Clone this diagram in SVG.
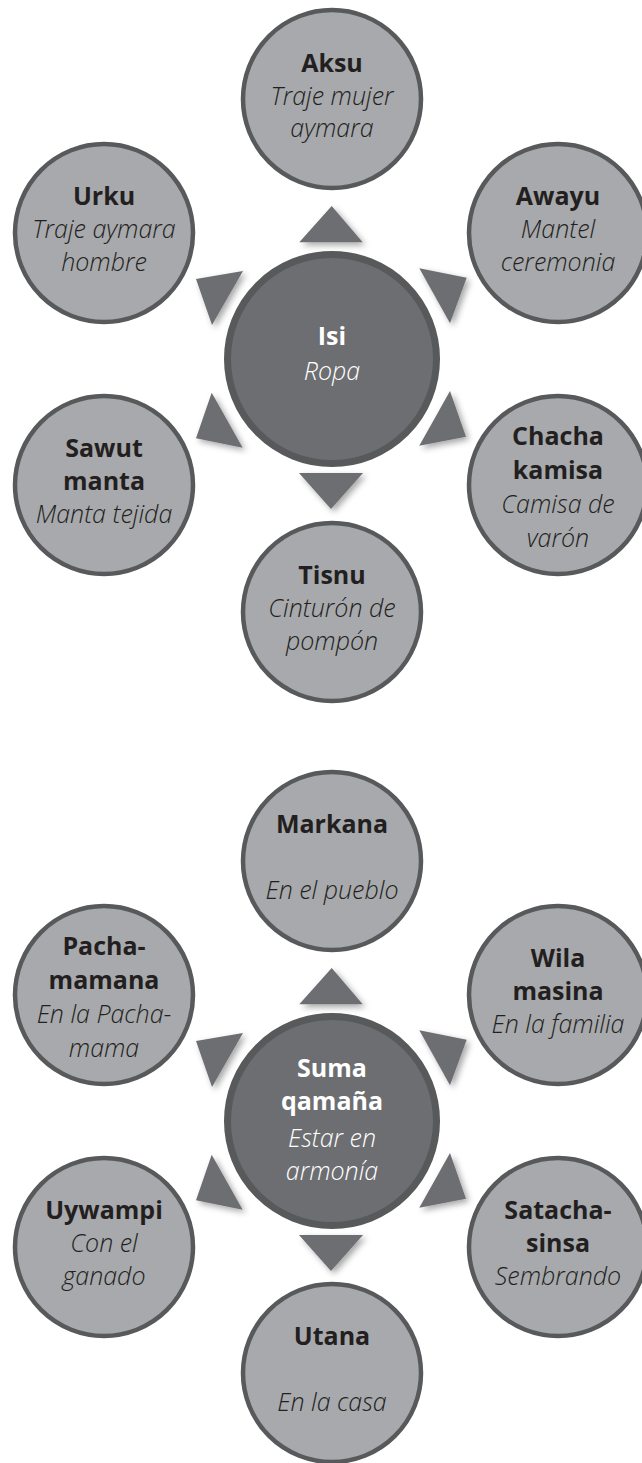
<svg xmlns="http://www.w3.org/2000/svg" width="642" height="1463" viewBox="0 0 642 1463">
  <defs>
    <filter id="shadow" x="-40%" y="-40%" width="180%" height="180%">
      <feDropShadow dx="3" dy="3" stdDeviation="3" flood-color="#000" flood-opacity="0.35"/>
    </filter>
    <style>
      .sat { fill: #a7a9ac; stroke: #58595b; stroke-width: 4.5; }
      .hub { fill: #6d6e71; stroke: #58595b; stroke-width: 7; }
      .tri { fill: #6d6e71; }
      text { font-family: "Open Sans", "Liberation Sans", sans-serif; font-size: 25px; text-anchor: middle; }
      .b { font-weight: 700; fill: #231f20; }
      .i { font-style: italic; font-weight: 300; fill: #231f20; }
      .bw { font-weight: 700; fill: #ffffff; }
      .iw { font-style: italic; font-weight: 300; fill: #ffffff; }
    </style>
  </defs>

  <rect width="642" height="1463" fill="#ffffff"/>

  <!-- Arrow triangles around both hubs -->
  <g id="connectors" filter="url(#shadow)">
    <g class="tri">
      <!-- clothing hub -->
      <polygon points="331.7,206 299.3,242.3 362.7,242.3"/>
      <polygon points="331,509 299,473 363,473"/>
      <polygon points="196,279 243,271 212,325"/>
      <polygon points="466.7,277.7 419.3,268.3 450,323.3"/>
      <polygon points="196,438.3 211.7,392.7 242.7,447.7"/>
      <polygon points="466,436.7 450,391 419.3,445.7"/>
      <!-- harmony hub -->
      <polygon points="331.7,968 299.3,1004.3 362.7,1004.3"/>
      <polygon points="331,1271 299,1235 363,1235"/>
      <polygon points="196,1041 243,1033 212,1087"/>
      <polygon points="466.7,1039.7 419.3,1030.3 450,1085.3"/>
      <polygon points="196,1200.3 211.7,1154.7 242.7,1209.7"/>
      <polygon points="466,1198.7 450,1153 419.3,1207.7"/>
    </g>
  </g>

  <!-- Clothing diagram -->
  <g id="isi">
    <circle class="hub" cx="332" cy="359" r="104.5"/>
    <text class="bw" x="332" y="345">Isi</text>
    <text class="iw" x="332" y="380">Ropa</text>
  </g>
  <g id="aksu">
    <circle class="sat" cx="332" cy="99" r="89"/>
    <text class="b" x="332" y="72">Aksu</text>
    <text class="i" x="332" y="105">Traje mujer</text>
    <text class="i" x="332" y="137">aymara</text>
  </g>
  <g id="urku">
    <circle class="sat" cx="104" cy="233" r="89"/>
    <text class="b" x="104" y="205">Urku</text>
    <text class="i" x="104" y="238">Traje aymara</text>
    <text class="i" x="104" y="271">hombre</text>
  </g>
  <g id="awayu">
    <circle class="sat" cx="558" cy="233" r="89"/>
    <text class="b" x="558" y="205">Awayu</text>
    <text class="i" x="558" y="238">Mantel</text>
    <text class="i" x="558" y="271">ceremonia</text>
  </g>
  <g id="sawut-manta">
    <circle class="sat" cx="104" cy="485" r="89"/>
    <text class="b" x="104" y="457">Sawut</text>
    <text class="b" x="104" y="490">manta</text>
    <text class="i" x="104" y="523">Manta tejida</text>
  </g>
  <g id="chacha-kamisa">
    <circle class="sat" cx="558" cy="485" r="89"/>
    <text class="b" x="558" y="445">Chacha</text>
    <text class="b" x="558" y="479">kamisa</text>
    <text class="i" x="558" y="513">Camisa de</text>
    <text class="i" x="558" y="547">varón</text>
  </g>
  <g id="tisnu">
    <circle class="sat" cx="332" cy="612" r="89"/>
    <text class="b" x="332" y="584">Tisnu</text>
    <text class="i" x="332" y="617">Cinturón de</text>
    <text class="i" x="332" y="650">pompón</text>
  </g>

  <!-- Harmony diagram -->
  <g id="suma-qamana">
    <circle class="hub" cx="332" cy="1121" r="104.5"/>
    <text class="bw" x="332" y="1077">Suma</text>
    <text class="bw" x="332" y="1110">qamaña</text>
    <text class="iw" x="332" y="1147">Estar en</text>
    <text class="iw" x="332" y="1180">armonía</text>
  </g>
  <g id="markana">
    <circle class="sat" cx="332" cy="861" r="89"/>
    <text class="b" x="332" y="833">Markana</text>
    <text class="i" x="332" y="899">En el pueblo</text>
  </g>
  <g id="pachamamana">
    <circle class="sat" cx="104" cy="995" r="89"/>
    <text class="b" x="104" y="955">Pacha-</text>
    <text class="b" x="104" y="989">mamana</text>
    <text class="i" x="104" y="1023">En la Pacha-</text>
    <text class="i" x="104" y="1057">mama</text>
  </g>
  <g id="wila-masina">
    <circle class="sat" cx="558" cy="995" r="89"/>
    <text class="b" x="558" y="967">Wila</text>
    <text class="b" x="558" y="1000">masina</text>
    <text class="i" x="558" y="1033">En la familia</text>
  </g>
  <g id="uywampi">
    <circle class="sat" cx="104" cy="1247" r="89"/>
    <text class="b" x="104" y="1219">Uywampi</text>
    <text class="i" x="104" y="1252">Con el</text>
    <text class="i" x="104" y="1285">ganado</text>
  </g>
  <g id="satacha-sinsa">
    <circle class="sat" cx="558" cy="1247" r="89"/>
    <text class="b" x="558" y="1219">Satacha-</text>
    <text class="b" x="558" y="1252">sinsa</text>
    <text class="i" x="558" y="1285">Sembrando</text>
  </g>
  <g id="utana">
    <circle class="sat" cx="332" cy="1373" r="89"/>
    <text class="b" x="332" y="1345">Utana</text>
    <text class="i" x="332" y="1411">En la casa</text>
  </g>
</svg>
